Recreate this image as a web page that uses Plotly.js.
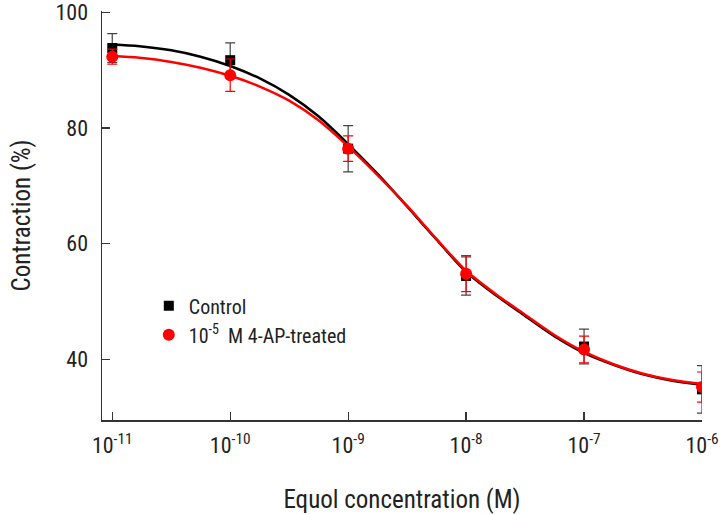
<!DOCTYPE html>
<html>
<head>
<meta charset="utf-8">
<script src="https://cdn.plot.ly/plotly-3.0.1.min.js"></script>
<style>
  html, body { margin: 0; padding: 0; background: #fff; }
  #chart { width: 721px; height: 514px; }
</style>
</head>
<body>
<div id="chart"></div>
<script>
// Measured points (equol concentration in M)
const doses = [1e-11, 1e-10, 1e-9, 1e-8, 1e-7, 1e-6];
const controlMean = [93.8, 91.7, 76.4, 54.4, 42.2, 34.8];
const controlErr = [2.5, 3.0, 4.0, 3.3, 3.0, 4.1];
const treatedMean = [92.3, 89.1, 76.4, 54.8, 41.7, 35.2];
const treatedErr = [1.3, 2.8, 2.2, 3.1, 2.3, 2.6];

// Fitted curves at roughly quarter decades
const curveX = [1e-11, 1.7e-11, 3.162e-11, 5.6e-11, 1e-10, 1.8e-10, 3.162e-10, 5.6e-10, 1e-9, 1.8e-9,
                3.162e-9, 5.6e-9, 1e-8, 1.8e-8, 3.162e-8, 5.6e-8, 1e-7, 1.8e-7, 3.162e-7, 5.6e-7, 1e-6];
const controlCurve = [94.4, 94.1, 93.4, 92.3, 90.7, 88.5, 85.7, 82.0, 77.2, 71.9,
                      66.4, 60.7, 55.1, 51.0, 47.5, 44.0, 41.1, 39.0, 37.4, 36.3, 35.6];
const treatedCurve = [92.4, 92.1, 91.4, 90.4, 89.0, 87.1, 84.7, 81.3, 76.8, 71.7,
                      66.5, 60.8, 55.3, 51.2, 47.7, 44.2, 41.3, 39.1, 37.5, 36.4, 35.7];

const xTickVals = [1e-11, 1e-10, 1e-9, 1e-8, 1e-7, 1e-6];
const xTickText = ['10<sup>-11</sup>', '10<sup>-10</sup>', '10<sup>-9</sup>', '10<sup>-8</sup>', '10<sup>-7</sup>', '10<sup>-6</sup>'];
const yTickVals = [40, 60, 80, 100];

const FONT = '"Liberation Sans Narrow", "Roboto Condensed", Roboto, sans-serif';
const AXIS_COLOR = '#333333';

function init() {
    const traces = [
        {
            x: curveX, y: controlCurve,
            mode: 'lines',
            line: { color: '#000000', width: 2.5, shape: 'spline', smoothing: 0.8 },
            showlegend: false, hoverinfo: 'none'
        },
        {
            x: curveX, y: treatedCurve,
            mode: 'lines',
            line: { color: '#ff0000', width: 2.5, shape: 'spline', smoothing: 0.8 },
            showlegend: false, hoverinfo: 'none'
        },
        {
            x: doses, y: controlMean,
            mode: 'markers',
            name: 'Control',
            marker: { symbol: 'square', size: 10, color: '#000000' },
            error_y: { type: 'data', array: controlErr, visible: true, color: '#444444', thickness: 1.2, width: 5 }
        },
        {
            x: doses, y: treatedMean,
            mode: 'markers',
            name: '10<sup>-5</sup>\u00a0 M 4-AP-treated',
            marker: { symbol: 'circle', size: 12, color: '#ff0000' },
            error_y: { type: 'data', array: treatedErr, visible: true, color: '#ff0000', thickness: 1.2, width: 5 }
        }
    ];

    const layout = {
        width: 721,
        height: 514,
        font: { family: FONT, size: 20, color: '#222222' },
        margin: { l: 102, r: 19, t: 11, b: 94 },
        paper_bgcolor: '#ffffff',
        plot_bgcolor: '#ffffff',
        showlegend: true,
        legend: {
            x: 0.078, y: 0.327, xanchor: 'left', yanchor: 'top',
            bgcolor: 'rgba(0,0,0,0)',
            font: { family: FONT, size: 20, color: '#222222' },
            tracegroupgap: 0
        },
        xaxis: {
            type: 'log',
            range: [-11.087, -6],
            tickmode: 'array',
            tickvals: xTickVals,
            ticktext: xTickText,
            ticks: 'inside',
            ticklen: 8,
            tickwidth: 1.3,
            tickcolor: AXIS_COLOR,
            ticklabelstandoff: 5,
            ticklabeloverflow: 'allow',
            showline: true,
            linecolor: AXIS_COLOR,
            linewidth: 1.5,
            showgrid: false,
            zeroline: false,
            tickfont: { family: FONT, size: 22, color: '#222222' },
            title: { text: 'Equol concentration (M)', font: { family: FONT, size: 25, color: '#222222' }, standoff: 36 }
        },
        yaxis: {
            range: [29.5, 100.2],
            tickmode: 'array',
            tickvals: yTickVals,
            ticks: 'inside',
            ticklen: 8,
            tickwidth: 1.3,
            tickcolor: AXIS_COLOR,
            ticklabelstandoff: 8,
            ticklabeloverflow: 'allow',
            showline: true,
            linecolor: AXIS_COLOR,
            linewidth: 1.5,
            showgrid: false,
            zeroline: false,
            tickfont: { family: FONT, size: 22, color: '#222222' },
            title: { text: 'Contraction (%)', font: { family: FONT, size: 25, color: '#222222' }, standoff: 18 }
        }
    };

    const config = { displayModeBar: false, responsive: false, staticPlot: true };

    Plotly.newPlot('chart', traces, layout, config);
}

document.addEventListener('DOMContentLoaded', init);
</script>
</body>
</html>
